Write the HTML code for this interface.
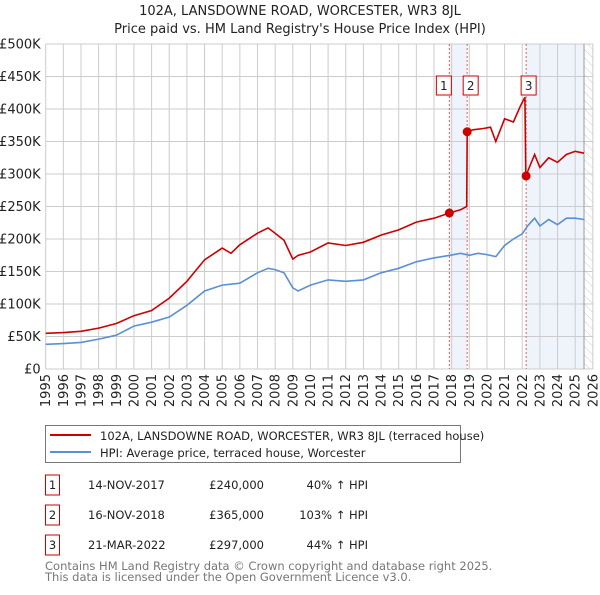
<!DOCTYPE html>
<html><head><meta charset="utf-8"><style>
body{margin:0;background:#fff;font-family:"Liberation Sans","DejaVu Sans",sans-serif;}
svg text{font-family:"DejaVu Sans","Liberation Sans",sans-serif;}
</style></head><body>
<svg id="c" width="600" height="590" xmlns="http://www.w3.org/2000/svg"></svg>
<script>
const hpiYears=[1995,1996,1997,1998,1999,2000,2001,2002,2003,2004,2005,2006,2007,2007.6,2008,2008.5,2009,2009.3,2010,2011,2012,2013,2014,2015,2016,2017,2017.9,2018.5,2019,2019.5,2020,2020.5,2021,2021.5,2022,2022.3,2022.7,2023,2023.5,2024,2024.5,2025,2025.5];
const hpiValues=[38,39,41,46,52,66,72,80,98,120,129,132,148,155,153,148,125,120,129,137,135,137,148,155,165,171,175,178,175,178,176,173,190,200,208,220,232,220,230,222,232,232,230];
const redYears=[1995,1996,1997,1998,1999,2000,2001,2002,2003,2004,2005,2005.5,2006,2007,2007.6,2008,2008.5,2009,2009.3,2010,2011,2012,2013,2014,2015,2016,2017,2017.87,2018.5,2018.85,2018.88,2019.2,2019.8,2020.2,2020.5,2021,2021.5,2021.9,2022.15,2022.2,2022.7,2023,2023.5,2024,2024.5,2025,2025.5];
const redValues=[55,56,58,63,70,82,90,109,135,168,186,178,191,209,217,209,198,169,175,180,194,190,195,206,214,226,232,240,245,250,365,368,370,372,350,385,380,405,418,297,330,310,325,318,330,335,332];
const saleYears=[2017.87,2018.88,2022.22];
const saleValues=[240,365,297];
const saleLabels=["1","2","3"];
const yTicks=[0,50,100,150,200,250,300,350,400,450,500];
const yLabels=["£0","£50K","£100K","£150K","£200K","£250K","£300K","£350K","£400K","£450K","£500K"];
const xTicks=[];for(let y=1995;y<=2026;y++)xTicks.push(y);

const svg=document.getElementById('c');const NS="http://www.w3.org/2000/svg";
const L=45.7,YW=17.65,B=369,T=44;
const X=y=>L+(y-1995)*YW;
const Y=v=>B-(v/500)*(B-T);
const R=X(2026);
function mk(t,a,p){const e=document.createElementNS(NS,t);for(const k in a)e.setAttribute(k,a[k]);(p||svg).appendChild(e);return e;}
function tx(s,a){const e=mk('text',a);e.textContent=s;return e;}
let e;
e=mk('rect',{x:X(2017.87),y:T,width:X(2018.88)-X(2017.87),height:B-T,fill:'#eef3fc'});

e=mk('rect',{x:X(2022.22),y:T,width:X(2025.5)-X(2022.22),height:B-T,fill:'#eef3fc'});

const defs=mk('defs',{});const pat=mk('pattern',{id:'h',width:6,height:6,patternUnits:'userSpaceOnUse',patternTransform:'rotate(-45)'},defs);
mk('line',{x1:0,y1:0,x2:0,y2:6,stroke:'#ccc','stroke-width':1},pat);
e=mk('rect',{x:X(2025.5),y:T,width:R-X(2025.5),height:B-T,fill:'url(#h)'});

const g=mk('g',{});
yTicks.forEach((v,i)=>{mk('line',{x1:L,x2:R,y1:Y(v),y2:Y(v),stroke:'#ccc'},g);
 const t=tx(yLabels[i],{x:L-5,y:Y(v)+4.5,'text-anchor':'end','font-size':13,fill:'#222'});
 });
xTicks.forEach(y=>{mk('line',{x1:X(y),x2:X(y),y1:T,y2:B,stroke:'#ccc'},g);
 const t=tx(String(y),{x:0,y:0,'text-anchor':'end','font-size':13,fill:'#222',transform:`translate(${(X(y)+4.5).toFixed(1)},374) rotate(-90)`});
 });
mk('line',{x1:X(2025.5),x2:X(2025.5),y1:T,y2:B,stroke:'#999'});
saleYears.forEach(y=>{e=mk('line',{x1:X(y),x2:X(y),y1:T,y2:B,stroke:'#e06060','stroke-dasharray':'2,2','stroke-width':1});
 });
function pts(xs,vs){return xs.map((x,i)=>X(x).toFixed(1)+','+Y(vs[i]).toFixed(1)).join(' ');}
e=mk('polyline',{points:pts(hpiYears,hpiValues),fill:'none',stroke:'#5b8fd6','stroke-width':1.6});

e=mk('polyline',{points:pts(redYears,redValues),fill:'none',stroke:'#cc0000','stroke-width':1.6});

saleYears.forEach((y,i)=>{e=mk('circle',{cx:X(y),cy:Y(saleValues[i]),r:4.5,fill:'#cc0000'});
 
 const bx=[X(y)-13,X(y)-4,X(y)-5][i];
 const b=mk('rect',{x:bx,y:76,width:15,height:19,fill:'#fff',stroke:'#cc0000'});
 
 const t=tx(saleLabels[i],{x:bx+7.5,y:90,'text-anchor':'middle','font-size':12,fill:'#222'});
 });
e=tx("102A, LANSDOWNE ROAD, WORCESTER, WR3 8JL",{x:300,y:15,'text-anchor':'middle','font-size':13,fill:'#222'});

e=tx("Price paid vs. HM Land Registry's House Price Index (HPI)",{x:300,y:33,'text-anchor':'middle','font-size':13,fill:'#222'});

e=mk('rect',{x:45.5,y:425.5,width:415,height:37,fill:'#fff',stroke:'#777'});

mk('line',{x1:50,x2:91,y1:435,y2:435,stroke:'#cc0000','stroke-width':2});
e=tx("102A, LANSDOWNE ROAD, WORCESTER, WR3 8JL (terraced house)",{x:100,y:440,'font-size':11.5,fill:'#222'});

mk('line',{x1:50,x2:91,y1:452,y2:452,stroke:'#5b8fd6','stroke-width':2});
e=tx("HPI: Average price, terraced house, Worcester",{x:100,y:457,'font-size':11.5,fill:'#222'});

const rows=[["14-NOV-2017","£240,000","40% ↑ HPI"],["16-NOV-2018","£365,000","103% ↑ HPI"],["21-MAR-2022","£297,000","44% ↑ HPI"]];
rows.forEach((r,i)=>{const y=475+i*30;
 e=mk('rect',{x:45.5,y:y,width:14,height:20,fill:'#fff',stroke:'#cc0000'});
 
 tx(saleLabels[i],{x:52.5,y:y+14,'text-anchor':'middle','font-size':11.5,fill:'#222'});
 e=tx(r[0],{x:88,y:y+14,'font-size':11.5,fill:'#222'});
 e=tx(r[1],{x:264,y:y+14,'text-anchor':'end','font-size':11.5,fill:'#222'});
 e=tx(r[2],{x:368,y:y+14,'text-anchor':'end','font-size':11.5,fill:'#222'});});
e=tx("Contains HM Land Registry data © Crown copyright and database right 2025.",{x:45,y:570,'font-size':11.5,fill:'#777'});

e=tx("This data is licensed under the Open Government Licence v3.0.",{x:45,y:581,'font-size':11.5,fill:'#777'});

</script>
</body></html>
